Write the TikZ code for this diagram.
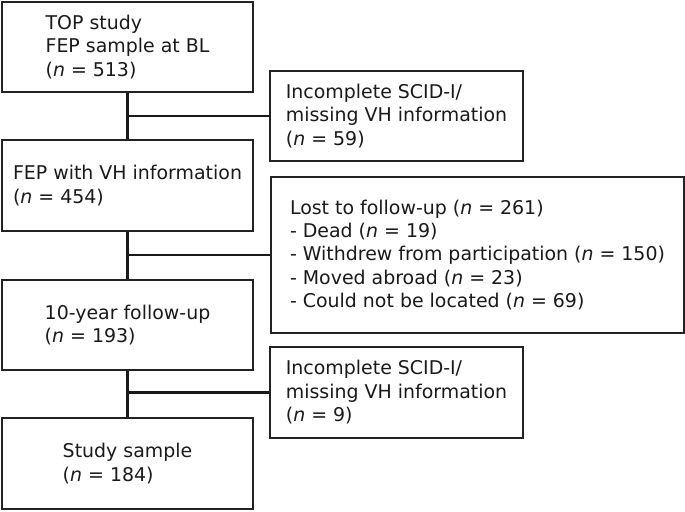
\documentclass[tikz,border=0pt]{standalone}
\usepackage{fontspec}
\setmainfont{DejaVu Sans}
\usepackage{tikz}
\usepackage{xcolor}
\usetikzlibrary{positioning,calc}
\definecolor{ink}{HTML}{1A1A1A}
\definecolor{edge}{HTML}{222222}
\newcommand{\nn}[1]{(\textit{n} = #1)}
\tikzset{
  stagebox/.style={draw=edge, fill=white, line width=1.5pt, align=left,
                   text=ink, inner sep=0pt, minimum width=188pt, minimum height=68pt,
                   font=\fontsize{14.2}{17.6}\selectfont},
  dropbox/.style={stagebox, minimum width=190pt},
  link/.style={line width=1.6pt, draw=ink}
}
\begin{document}
\begin{tikzpicture}[x=0.75pt,y=-0.75pt]
        \useasboundingbox (0,0) rectangle (685,511);

        % main flow
        \node[stagebox] (top) at (127.5,47) {TOP study\\FEP sample at BL\\\nn{513}};
        \node[stagebox] (vhinfo) at (127.5,185.5) {FEP with VH information\\\nn{454}};
        \node[stagebox] (followup) at (127.5,325) {10-year follow-up\\\nn{193}};
        \node[stagebox] (sample) at (127.5,463.5) {Study sample\\\nn{184}};

        % exclusions
        \node[dropbox] (excla) at (396.5,116) {Incomplete SCID-I/\\missing VH information\\\nn{59}};
        \node[dropbox, minimum width=310pt, minimum height=117pt] (lost) at (477.5,255)
          {Lost to follow-up \nn{261}\\- Dead \nn{19}\\- Withdrew from participation \nn{150}\\- Moved abroad \nn{23}\\- Could not be located \nn{69}};
        \node[dropbox] (exclb) at (396.5,392.5) {Incomplete SCID-I/\\missing VH information\\\nn{9}};

        % connectors
        \draw[link] (top.south) -- (vhinfo.north);
        \draw[link] (top.south |- excla.west) -- (excla.west);
        \draw[link] (vhinfo.south) -- (followup.north);
        \draw[link] (vhinfo.south |- lost.west) -- (lost.west);
        \draw[link] (followup.south) -- (sample.north);
        \draw[link] (followup.south |- exclb.west) -- (exclb.west);
      \end{tikzpicture}
\end{document}
